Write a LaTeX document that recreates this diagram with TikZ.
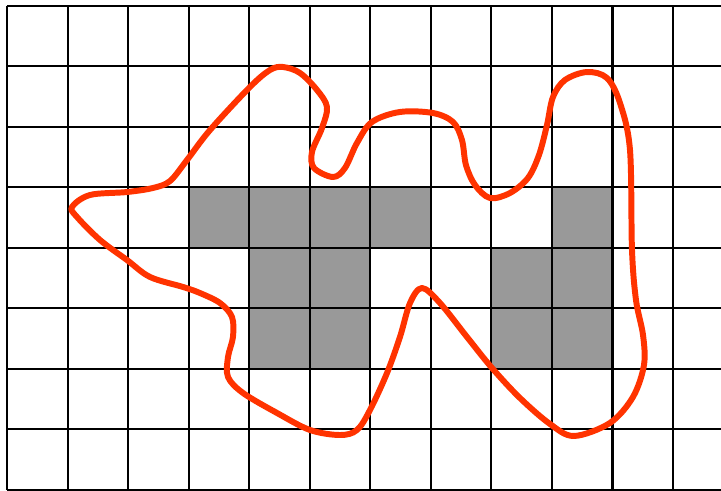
\documentclass[tikz,border=0pt]{standalone}
\usepackage{xcolor}
\usepackage{tikz}
\definecolor{curvered}{HTML}{FF3300}
\definecolor{cellgrey}{HTML}{999999}

\begin{document}
\begin{tikzpicture}[gridline/.style={line width=0.95pt, black},
  blob/.style={line width=2.8pt, curvered, line join=round}]
  % Page frame
  \clip (-0.1156,-0.0165) rectangle (11.792,8.0925);
  \useasboundingbox (-0.1156,-0.0165) rectangle (11.792,8.0925);
  \fill[white] (-0.1156,-0.0165) rectangle (11.792,8.0925);

  % Filled cells
  \foreach \cx/\cy in {3/4,4/4,5/4,6/4,9/4,4/3,5/3,8/3,9/3,4/2,5/2,8/2,9/2}
    \fill[cellgrey] (\cx,\cy) rectangle ++(1,1);

  % Grid
  \draw[gridline] (0,0) grid (12,8);

  % Outline
  \draw[blob] plot[smooth cycle, tension=0.55] coordinates {
    (1.073,4.674) (1.371,4.872) (1.982,4.921) (2.411,4.988) (2.692,5.103)
    (2.973,5.450) (3.353,5.945) (4.013,6.656) (4.343,6.936) (4.558,6.986)
    (4.839,6.887) (5.120,6.606) (5.285,6.325) (5.202,5.978) (5.037,5.582)
    (5.070,5.318) (5.384,5.169) (5.582,5.318) (5.780,5.731) (6.028,6.078)
    (6.490,6.243) (7.035,6.226) (7.366,6.078) (7.514,5.780) (7.580,5.367)
    (7.729,5.037) (7.977,4.822) (8.307,4.905) (8.604,5.153) (8.786,5.533)
    (8.918,6.028) (9.017,6.490) (9.215,6.771) (9.579,6.903) (9.909,6.804)
    (10.124,6.391) (10.289,5.615) (10.322,3.964) (10.388,3.138) (10.504,2.560)
    (10.520,2.064) (10.338,1.536) (9.958,1.107) (9.364,0.892) (8.968,1.090)
    (8.472,1.519) (8.010,2.015) (7.597,2.527) (7.151,3.088) (6.854,3.336)
    (6.656,3.088) (6.490,2.527) (6.276,1.932) (5.995,1.321) (5.780,0.991)
    (5.500,0.908) (5.004,0.991) (4.459,1.272) (3.898,1.602) (3.650,1.866)
    (3.650,2.197) (3.732,2.527) (3.716,2.857) (3.518,3.088) (3.187,3.253)
    (2.907,3.353) (2.362,3.518) (1.982,3.798) (1.536,4.129) (1.156,4.509)};
\end{tikzpicture}
\end{document}
